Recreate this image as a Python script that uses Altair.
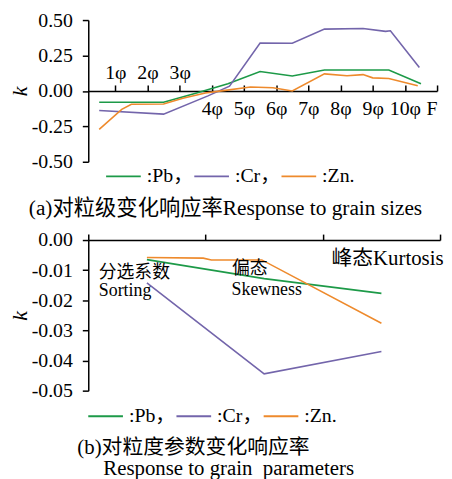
import altair as alt
import pandas as pd

FONT = "Liberation Serif, Noto Sans CJK SC"

series = ["Pb", "Cr", "Zn"]
colors = ["#1d9a48", "#7365ab", "#ee8a2c"]
legend_labels = [":Pb，", ":Cr，", ":Zn."]

# ---- panel (a): response to grain sizes ----
grain_labels = ["1φ", "2φ", "3φ", "4φ", "5φ", "6φ", "7φ", "8φ", "9φ", "10φ", "F"]
pb_a_x = [0.5, 1.5, 2.5, 3.5, 4.5, 5.5, 6.5, 7.5, 8.5, 9.5, 10.5]
pb_a_k = [-0.08, -0.08, -0.08, -0.016, 0.05, 0.137, 0.105, 0.148, 0.148, 0.148, 0.05]
cr_a_x = [0.5, 2.5, 3.88, 4.55, 5.5, 6.5, 7.5, 8.7, 9.4, 9.55, 10.45]
cr_a_k = [-0.138, -0.164, -0.035, 0.033, 0.338, 0.336, 0.436, 0.441, 0.42, 0.424, 0.165]
zn_a_x = [0.5, 1.2, 1.5, 2.5, 3.1, 3.8, 4.3, 5.2, 5.9, 6.5, 7.5, 8.2, 8.7, 9.0, 9.5, 10.4]
zn_a_k = [-0.272, -0.13, -0.094, -0.092, -0.052, -0.015, 0.0, 0.028, 0.022, 0.0,
          0.12, 0.107, 0.115, 0.092, 0.088, 0.036]
ticks_a = [0.5, 0.25, 0.0, -0.25, -0.5]

# ---- panel (b): response to grain parameters ----
param_text = ["分选系数", "Sorting", "偏态", "Skewness", "峰态Kurtosis"]
param_text_x = [0.089, 0.09, 1.226, 1.222, 2.074]
param_text_k = [-0.0109, -0.0170, -0.0096, -0.0165, -0.0063]
param_text_size = [18, 18, 18, 18, 21]
pb_b_x = [0.5, 1.5, 2.5]
pb_b_k = [-0.0065, -0.0128, -0.0177]
cr_b_x = [0.5, 1.5, 2.5]
cr_b_k = [-0.0142, -0.0444, -0.0370]
zn_b_x = [0.5, 0.98, 1.05, 1.48, 2.5]
zn_b_k = [-0.0058, -0.006, -0.0066, -0.0066, -0.0276]
ticks_b = [0.0, -0.01, -0.02, -0.03, -0.04, -0.05]


def long_df(parts):
    rows = []
    for name, xs, ks in parts:
        for i, (x, k) in enumerate(zip(xs, ks)):
            rows.append({"series": name, "x": x, "k": k, "o": i})
    return pd.DataFrame(rows)


df_a = long_df([("Pb", pb_a_x, pb_a_k), ("Cr", cr_a_x, cr_a_k), ("Zn", zn_a_x, zn_a_k)])
df_b = long_df([("Pb", pb_b_x, pb_b_k), ("Cr", cr_b_x, cr_b_k), ("Zn", zn_b_x, zn_b_k)])
df_t = pd.DataFrame({"t": param_text, "x": param_text_x, "k": param_text_k, "s": param_text_size})

legend_expr = " : ".join(
    f"datum.label == '{s}' ? '{l}'" for s, l in zip(series, legend_labels)
) + " : datum.label"

W_A, H_A = 352, 143
W_B, H_B = 355, 152

color_scale = alt.Scale(domain=series, range=colors)
grain_arr = "[" + ",".join(f"'{g}'" for g in grain_labels) + "]"


def legend(x, y):
    return alt.Legend(orient="none", legendX=x, legendY=y, direction="horizontal",
                      title=None, symbolType="stroke", symbolSize=1225,
                      symbolStrokeWidth=2, labelFont=FONT, labelFontSize=20,
                      labelColor="black", labelExpr=legend_expr, columnPadding=-9,
                      labelOffset=5)


def yaxis(vals):
    return alt.Axis(values=vals, title="k", titleFont=FONT, titleFontStyle="italic",
                    titleFontSize=22, titleFontWeight="normal", titleColor="black",
                    titlePadding=0, labelFont=FONT, labelFontSize=20, labelColor="black",
                    labelExpr="replace(format(datum.value, '.2f'), '\u2212', '-')",
                    labelOverlap=False, tickSize=6, tickColor="black", tickWidth=1.5,
                    domainColor="black", domainWidth=1.5, grid=False, labelPadding=10)


xscale_a = alt.Scale(domain=[0.16, 11], nice=False, zero=False)
yscale_a = alt.Scale(domain=[-0.5, 0.5], nice=False)

top_axis_a = alt.Axis(orient="top", offset=-H_A / 2, values=list(range(1, 12)),
                      labelExpr=f"datum.value <= 3 ? {grain_arr}[datum.value - 1] : ''",
                      title=None, tickSize=6, tickColor="black", tickWidth=1.5,
                      domainColor="black", domainWidth=1.5, labelFont=FONT,
                      labelFontSize=20, labelColor="black", labelPadding=3, grid=False,
                      labelOverlap=False)
bottom_axis_a = alt.Axis(orient="bottom", offset=-H_A / 2, values=list(range(1, 12)),
                         labelExpr=f"datum.value > 3 ? {grain_arr}[datum.value - 1] : ''",
                         title=None, ticks=False, domain=False, labelFont=FONT,
                         labelFontSize=20, labelColor="black", labelPadding=8, grid=False,
                         labelOverlap=False)

lines_a = alt.Chart(df_a).mark_line(strokeWidth=1.6).encode(
    x=alt.X("x:Q", scale=xscale_a, axis=top_axis_a),
    y=alt.Y("k:Q", scale=yscale_a, axis=yaxis(ticks_a)),
    color=alt.Color("series:N", scale=color_scale, sort=series, legend=legend(17, 139)),
    order="o:Q",
)
ghost_a = alt.Chart(df_a).mark_point(opacity=0).encode(
    x=alt.X("x:Q", scale=xscale_a, axis=bottom_axis_a),
    y=alt.Y("k:Q", scale=yscale_a, axis=yaxis(ticks_a)),
)
panel_a = alt.layer(lines_a, ghost_a).resolve_axis(x="independent").properties(
    width=W_A, height=H_A,
    title=alt.TitleParams(text="(a)对粒级变化响应率Response to grain sizes", orient="bottom",
                          anchor="start", frame="group", dx=-60, offset=12, font=FONT,
                          fontSize=21.5, fontWeight="normal", color="black"),
)

xscale_b = alt.Scale(domain=[0, 3], nice=False, zero=False)
yscale_b = alt.Scale(domain=[-0.05, 0.0], nice=False)
xaxis_b = alt.Axis(orient="top", values=[0, 1, 2, 3], labels=False, title=None,
                   tickSize=6, tickColor="black", tickWidth=1.5, domainColor="black",
                   domainWidth=1.5, grid=False)
lines_b = alt.Chart(df_b).mark_line(strokeWidth=1.6).encode(
    x=alt.X("x:Q", scale=xscale_b, axis=xaxis_b),
    y=alt.Y("k:Q", scale=yscale_b, axis=yaxis(ticks_b)),
    color=alt.Color("series:N", scale=color_scale, sort=series, legend=legend(-1, 159)),
    order="o:Q",
)
text_b = alt.Chart(df_t).mark_text(align="left", baseline="middle", font=FONT,
                                   color="black").encode(
    x=alt.X("x:Q", scale=xscale_b, axis=xaxis_b),
    y=alt.Y("k:Q", scale=yscale_b, axis=yaxis(ticks_b)),
    text="t:N",
    size=alt.Size("s:Q", scale=None, legend=None),
)
panel_b = alt.layer(lines_b, text_b).properties(
    width=W_B, height=H_B,
    title=alt.TitleParams(text="(b)对粒度参数变化响应率",
                          subtitle="\u200b" + "\u00a0" * 5 + "Response to grain\u00a0 parameters",
                          orient="bottom", anchor="start", frame="group", dx=-11, offset=11,
                          font=FONT, fontSize=21, fontWeight="normal", color="black",
                          subtitleFont=FONT, subtitleFontSize=21, subtitleColor="black",
                          subtitlePadding=0),
)

chart = alt.vconcat(panel_a, panel_b, spacing=10).resolve_legend(
    color="independent"
).configure_view(stroke=None).properties(
    padding={"left": 0, "top": 0, "right": 0, "bottom": 0},
    background="white",
)

chart.save("out.html", embed_options={"renderer": "svg", "actions": False})
